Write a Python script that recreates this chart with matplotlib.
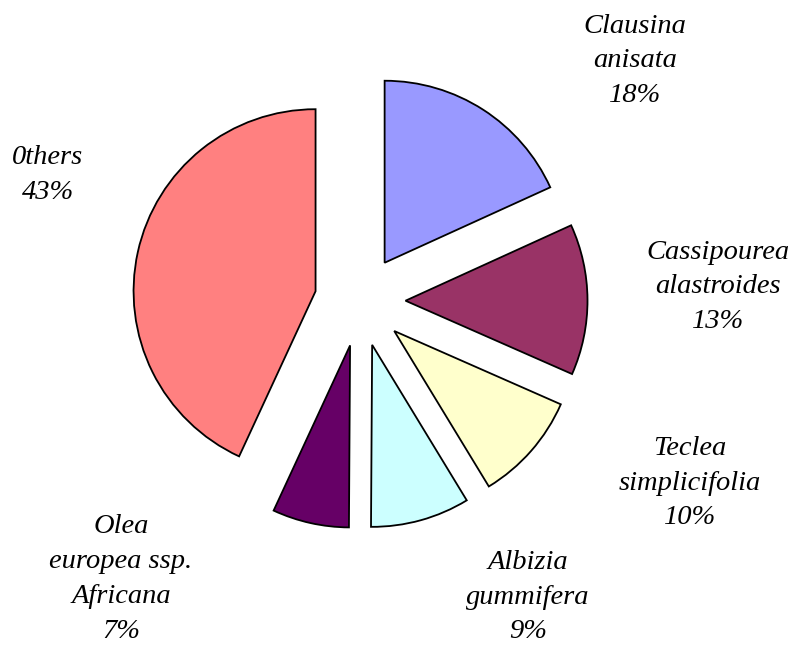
import matplotlib
matplotlib.use("Agg")
import matplotlib.pyplot as plt

species = ["Clausina\nanisata", "Cassipourea\nalastroides", "Teclea\nsimplicifolia",
           "Albizia\ngummifera", "Olea\neuropea ssp.\nAfricana", "0thers"]
shares = [18.2, 13.4, 9.7, 8.8, 6.8, 43.1]
pct_labels = ["18%", "13%", "10%", "9%", "7%", "43%"]
colors = ["#9999ff", "#993366", "#ffffcc", "#ccffff", "#660066", "#ff8080"]

W, H = 799, 646
fig = plt.figure(figsize=(W / 100, H / 100), dpi=100)
ax = fig.add_axes([0, 0, 1, 1])

cx, cy, R = 360, 301, 182  # pixel layout of pie
ax.pie(shares, colors=colors, startangle=90, counterclock=False,
       explode=[0.25] * len(shares), radius=1.0,
       wedgeprops=dict(edgecolor="black", linewidth=1.3))

ax.set_aspect("auto")
ax.set_xlim(-cx / R, (W - cx) / R)
ax.set_ylim(-(H - cy) / R, cy / R)
ax.axis("off")

# label positions (pixel centers)
label_pos = [(635, 61), (718, 287), (690, 483), (528, 597), (121, 579), (48, 175)]
for name, pct, (px, py) in zip(species, pct_labels, label_pos):
    x = (px - cx) / R
    y = (cy - py) / R
    ax.text(x, y, f"{name}\n{pct}", ha="center", va="center",
            fontfamily="Liberation Serif", fontstyle="italic", fontsize=20.5,
            linespacing=1.52)

fig.savefig("out.png", dpi=100)
